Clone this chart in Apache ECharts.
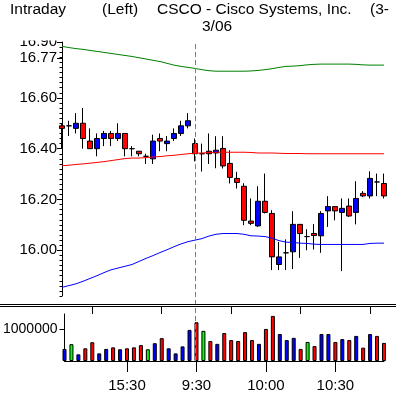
<!DOCTYPE html>
<html>
<head>
<meta charset="utf-8">
<script src="https://cdn.jsdelivr.net/npm/echarts@6/dist/echarts.min.js"></script>
<style>html,body{margin:0;padding:0;background:#fff}#c{width:396px;height:398px}</style>
</head>
<body>
<div id="c"></div>
<script>
const CATEGORIES = ['15:03','15:06','15:09','15:12','15:15','15:18','15:21','15:24','15:27','15:30','15:33','15:36','15:39','15:42','15:45','15:48','15:51','15:54','15:57',
  '9:30','9:33','9:36','9:39','9:42','9:45','9:48','9:51','9:54','9:57','10:00','10:03','10:06','10:09','10:12','10:15','10:18','10:21','10:24','10:27','10:30','10:33','10:36','10:39','10:42','10:45','10:48','10:51'];
const OPEN  = [16.49,16.49,16.48,16.50,16.43,16.40,16.44,16.46,16.44,16.46,16.40,16.39,16.37,16.36,16.44,16.42,16.44,16.46,16.49,
  16.42,16.38,16.39,16.383,16.401,16.342,16.283,16.252,16.115,16.096,16.193,16.145,15.944,15.990,15.994,16.102,16.054,16.066,16.057,16.155,16.172,16.149,16.174,16.149,16.224,16.214,16.269,16.263];
const CLOSE = [16.48,16.49,16.50,16.44,16.40,16.44,16.46,16.44,16.46,16.40,16.40,16.38,16.37,16.43,16.43,16.43,16.46,16.49,16.51,
  16.38,16.38,16.38,16.394,16.332,16.287,16.267,16.118,16.106,16.193,16.149,15.974,15.974,15.990,16.102,16.066,16.054,16.058,16.145,16.172,16.155,16.165,16.135,16.204,16.214,16.283,16.269,16.214];
const LOW   = [16.40,16.45,16.46,16.40,16.40,16.37,16.41,16.41,16.43,16.37,16.37,16.37,16.34,16.34,16.39,16.39,16.43,16.45,16.48,
  16.35,16.31,16.34,16.323,16.322,16.263,16.243,16.099,16.099,16.092,16.145,15.922,15.922,15.922,15.926,15.970,16.000,16.003,15.990,16.092,16.118,15.918,16.131,16.102,16.209,16.204,16.213,16.204];
const HIGH  = [16.50,16.51,16.54,16.56,16.48,16.46,16.47,16.47,16.50,16.46,16.41,16.39,16.38,16.455,16.46,16.45,16.48,16.51,16.54,
  16.44,16.42,16.46,16.449,16.449,16.394,16.309,16.264,16.204,16.252,16.302,16.158,16.033,16.043,16.154,16.103,16.083,16.103,16.154,16.213,16.173,16.204,16.204,16.272,16.233,16.311,16.302,16.302];
const UPPER_BAND = [16.803,16.798,16.794,16.791,16.787,16.783,16.779,16.775,16.771,16.767,16.763,16.758,16.753,16.748,16.743,16.736,16.729,16.724,16.720,
  16.716,16.711,16.707,16.705,16.705,16.705,16.705,16.705,16.706,16.708,16.711,16.715,16.720,16.724,16.725,16.727,16.730,16.732,16.733,16.733,16.733,16.733,16.733,16.732,16.730,16.729,16.729,16.729];
const MIDDLE_LINE = [16.333,16.335,16.338,16.340,16.343,16.346,16.349,16.353,16.357,16.361,16.363,16.363,16.365,16.367,16.369,16.372,16.374,16.377,16.380,
  16.382,16.383,16.385,16.386,16.386,16.386,16.386,16.386,16.385,16.383,16.383,16.383,16.382,16.381,16.381,16.381,16.380,16.380,16.380,16.380,16.380,16.380,16.380,16.380,16.380,16.380,16.380,16.380];
const LOWER_BAND = [15.854,15.861,15.868,15.878,15.889,15.900,15.912,15.923,15.930,15.937,15.944,15.956,15.968,15.979,15.991,16.002,16.014,16.025,16.034,
  16.040,16.046,16.056,16.063,16.066,16.066,16.066,16.063,16.057,16.056,16.054,16.048,16.038,16.032,16.031,16.028,16.027,16.024,16.023,16.023,16.023,16.023,16.023,16.023,16.023,16.027,16.028,16.028];
const VOLUME = [380000,530000,210000,400000,590000,240000,380000,430000,370000,400000,430000,500000,370000,560000,720000,400000,240000,460000,980000,
  1220000,950000,630000,540000,880000,660000,630000,910000,660000,540000,1010000,1420000,850000,660000,730000,380000,600000,470000,850000,850000,600000,690000,660000,790000,420000,850000,790000,570000];
// tick direction of each volume bar: 1 up, -1 down, 0 unchanged
const VOLUME_DIR = [1,0,1,-1,-1,1,1,-1,1,-1,-1,-1,0,1,-1,1,1,1,1,
  -1,0,-1,1,-1,-1,-1,-1,-1,1,-1,-1,1,1,1,-1,0,-1,1,1,-1,1,-1,1,-1,1,-1,-1];
const PRICE_TICKS = [16.00,16.20,16.40,16.60,16.756,16.82];
const PRICE_TICK_LABELS = ['16.00','16.20','16.40','16.60','16.77','16.90'];
const VOLUME_TICKS = [1000000];
const DAY_BREAK = '9:30';

const FONT = 'Liberation Sans, Arial, sans-serif';
const dirColor = {'1':'#0000FF','-1':'#FF0000','0':'#00FF00'};

const chart = echarts.init(document.getElementById('c'), null, {renderer:'canvas'});
const candleData = OPEN.map((o,i)=>[o, CLOSE[i], LOW[i], HIGH[i]]);
const volData = VOLUME.map((v,i)=>({value:v, itemStyle:{color:dirColor[String(VOLUME_DIR[i])]}}));

const option = {
  animation:false,
  backgroundColor:'#fff',
  textStyle:{fontFamily:FONT},
  grid:[
    {left:62, right:12, top:42, height:254},
    {left:62, right:12, top:314, height:47},
    {left:62, right:12, top:42, height:319}
  ],
  xAxis:[
    {gridIndex:0, type:'category', data:CATEGORIES, boundaryGap:false, show:false},
    {gridIndex:1, type:'category', data:CATEGORIES, boundaryGap:false,
      axisLine:{show:true, lineStyle:{color:'#000', width:1}},
      axisTick:{show:true, length:11, interval:(i)=>i%10===9, lineStyle:{color:'#000'}},
      axisLabel:{show:true, interval:(i)=>i%10===9, margin:17, color:'#000', fontSize:15, fontFamily:FONT},
      splitLine:{show:false}},
    {gridIndex:1, type:'category', data:CATEGORIES, boundaryGap:false,
      axisLine:{show:false},
      axisTick:{show:true, length:8, interval:(i)=>i%10===4, lineStyle:{color:'#000'}},
      axisLabel:{show:false}, splitLine:{show:false}},
    {gridIndex:2, type:'category', data:CATEGORIES, boundaryGap:false, show:false}
  ],
  yAxis:[
    {gridIndex:0, type:'value', min:15.82, max:16.82, position:'left', scale:true,
      axisLine:{show:true, lineStyle:{color:'#000'}},
      axisTick:{show:true, length:5, customValues:PRICE_TICKS, lineStyle:{color:'#000'}},
      axisLabel:{show:true, customValues:PRICE_TICKS, margin:5, color:'#000', fontSize:15, fontFamily:FONT,
        formatter:(v)=>{const k=PRICE_TICKS.findIndex(t=>Math.abs(t-v)<1e-6); return k>=0?PRICE_TICK_LABELS[k]:'';}},
      splitLine:{show:false}},
    {gridIndex:0, type:'value', min:15.82, max:16.82, interval:0.02, position:'left',
      axisLine:{show:false},
      axisTick:{show:true, length:2.5, lineStyle:{color:'#000'}},
      axisLabel:{show:false}, splitLine:{show:false}},
    {gridIndex:1, type:'value', min:0, max:1480000, position:'left',
      axisLine:{show:true, lineStyle:{color:'#000'}},
      axisTick:{show:true, length:5, customValues:VOLUME_TICKS, lineStyle:{color:'#000'}},
      axisLabel:{show:true, customValues:VOLUME_TICKS, margin:7, color:'#000', fontSize:14, fontFamily:FONT, formatter:(v)=>String(v)},
      splitLine:{show:false}},
    {gridIndex:2, type:'value', min:0, max:1, show:false}
  ],
  series:[
    {type:'candlestick', xAxisIndex:0, yAxisIndex:0, data:candleData, barWidth:5,
      itemStyle:{color:'#0000FF', color0:'#FF0000', borderColor:'#000', borderColor0:'#000', borderColorDoji:'#000', borderWidth:1}},
    {type:'line', xAxisIndex:0, yAxisIndex:0, data:UPPER_BAND, symbol:'none', lineStyle:{color:'#008000', width:1}},
    {type:'line', xAxisIndex:0, yAxisIndex:0, data:MIDDLE_LINE, symbol:'none', lineStyle:{color:'#FF0000', width:1}},
    {type:'line', xAxisIndex:0, yAxisIndex:0, data:LOWER_BAND, symbol:'none', lineStyle:{color:'#0000FF', width:1}},
    {type:'bar', xAxisIndex:1, yAxisIndex:2, data:volData, barWidth:4,
      itemStyle:{borderColor:'#000', borderWidth:1}},
    {type:'line', xAxisIndex:3, yAxisIndex:3, data:[], symbol:'none', z:10,
      markLine:{symbol:'none', silent:true, animation:false, label:{show:false},
        lineStyle:{color:'#808080', type:[5,3], width:1},
        data:[{xAxis:DAY_BREAK}]}}
  ],
  graphic:[
    {type:'rect', z:100, shape:{x:0, y:0, width:62, height:40.5}, style:{fill:'#fff'}},
    {type:'line', z:100, shape:{x1:0, y1:304.5, x2:396, y2:304.5}, style:{stroke:'#000', lineWidth:1}},
    {type:'line', z:100, shape:{x1:0, y1:306.5, x2:396, y2:306.5}, style:{stroke:'#000', lineWidth:1}},
    {type:'text', z:101, style:{text:'Intraday', x:10, y:2, font:'15.5px '+FONT, fill:'#000', verticalAlign:'top'}},
    {type:'text', z:101, style:{text:'(Left)', x:102, y:2, font:'15.5px '+FONT, fill:'#000', verticalAlign:'top'}},
    {type:'text', z:101, style:{text:'CSCO - Cisco Systems, Inc.', x:157, y:2, font:'15.5px '+FONT, fill:'#000', verticalAlign:'top'}},
    {type:'text', z:101, style:{text:'(3-', x:370, y:2, font:'15.5px '+FONT, fill:'#000', verticalAlign:'top'}},
    {type:'text', z:101, style:{text:'3/06', x:202, y:19, font:'15.5px '+FONT, fill:'#000', verticalAlign:'top'}}
  ]
};
chart.setOption(option);
</script>
</body>
</html>
